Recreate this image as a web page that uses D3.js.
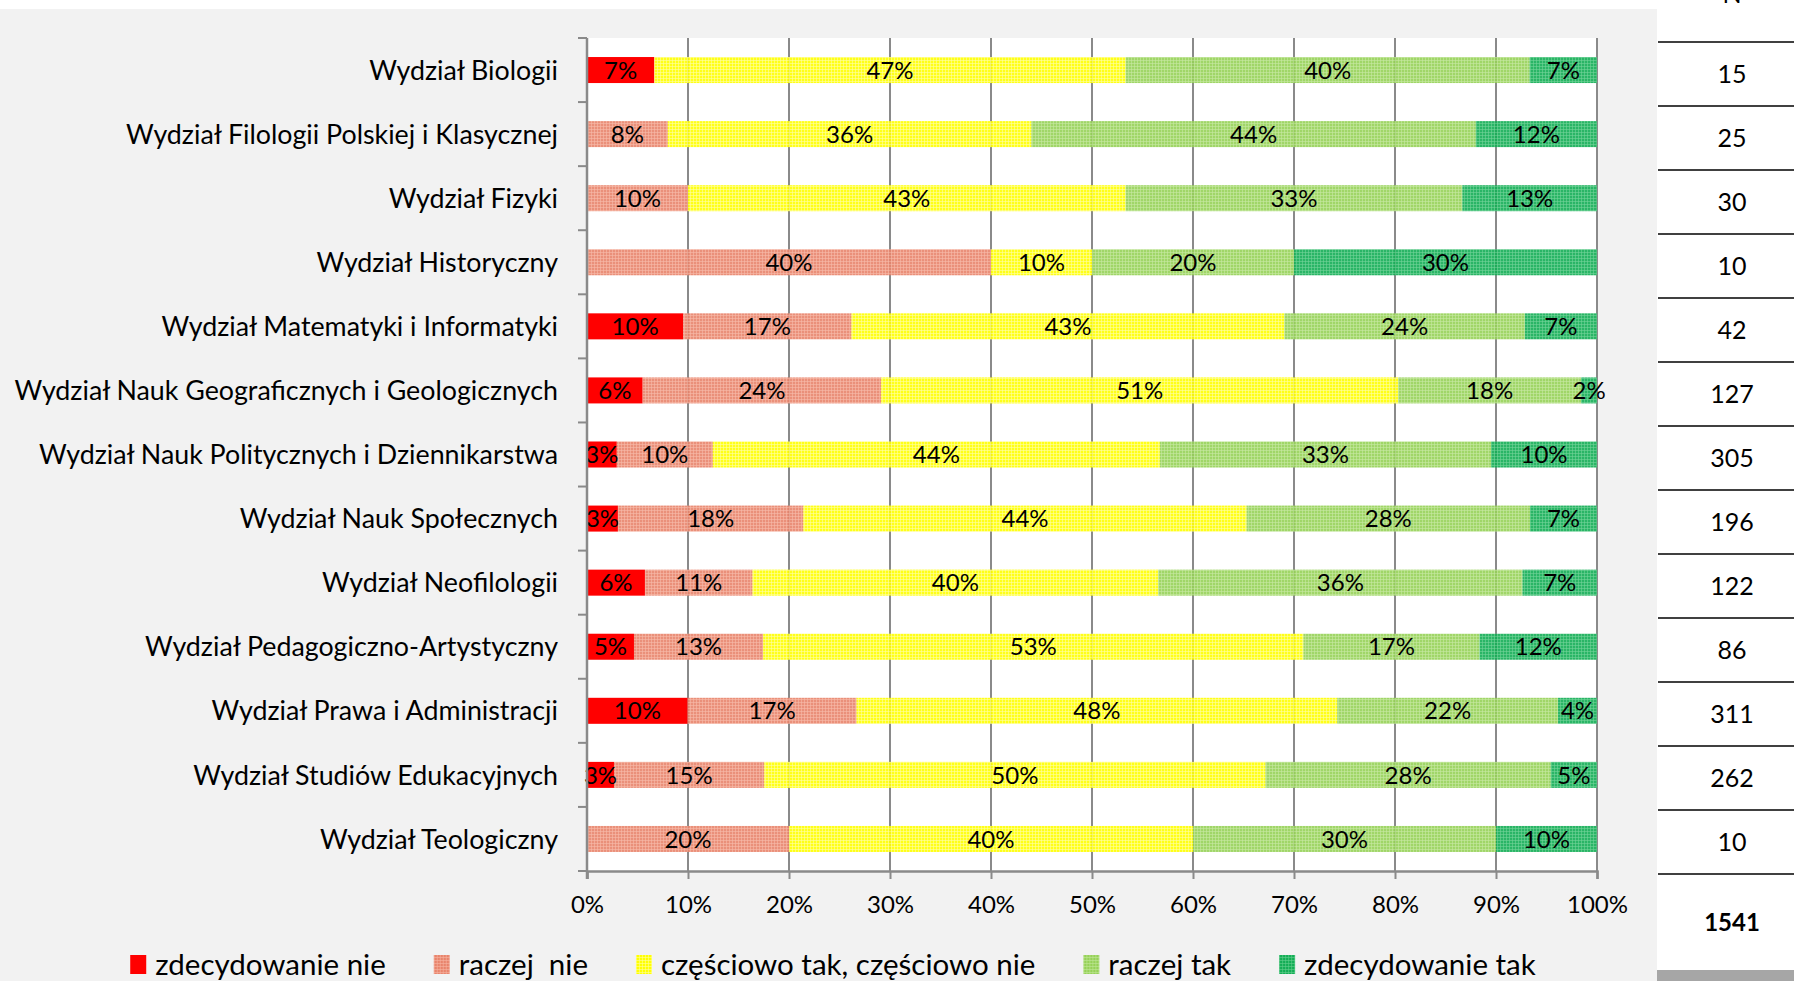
<!DOCTYPE html>
<html>
<head>
<meta charset="utf-8">
<script src="https://cdn.jsdelivr.net/npm/d3@7"></script>
<style>
	body { margin: 0; background: #ffffff; }
	text { font-family: Lato, "Open Sans", sans-serif; fill: #000000; }
</style>
</head>
<body>
<svg id="chart" width="1794" height="981"></svg>
<script>
// Wydzialy (kategorie osi Y)
var wydzialy = [
	"Wydział Biologii",
	"Wydział Filologii Polskiej i Klasycznej",
	"Wydział Fizyki",
	"Wydział Historyczny",
	"Wydział Matematyki i Informatyki",
	"Wydział Nauk Geograficznych i Geologicznych",
	"Wydział Nauk Politycznych i Dziennikarstwa",
	"Wydział Nauk Społecznych",
	"Wydział Neofilologii",
	"Wydział Pedagogiczno-Artystyczny",
	"Wydział Prawa i Administracji",
	"Wydział Studiów Edukacyjnych",
	"Wydział Teologiczny"
];

// N - liczba odpowiedzi na wydziale (tabela po prawej)
var liczbaN = [15, 25, 30, 10, 42, 127, 305, 196, 122, 86, 311, 262, 10];
var razemN = 1541;

// Odpowiedzi (serie)
var odpowiedzi = ["zdecydowanie nie", "raczej  nie", "częściowo tak, częściowo nie", "raczej tak", "zdecydowanie tak"];

// liczba osob w kazdej odpowiedzi, kolejnosc jak wydzialy
var zdecydowanieNie = [1, 0, 0, 0, 4, 7, 9, 6, 7, 4, 31, 7, 0];
var raczejNie       = [0, 2, 3, 4, 7, 30, 29, 36, 13, 11, 52, 39, 2];
var czesciowo       = [7, 9, 13, 1, 18, 65, 135, 86, 49, 46, 148, 130, 4];
var raczejTak       = [6, 11, 10, 2, 10, 23, 100, 55, 44, 15, 68, 74, 3];
var zdecydowanieTak = [1, 3, 4, 3, 3, 2, 32, 13, 9, 10, 12, 12, 1];

var osTicks = [0, 0.1, 0.2, 0.3, 0.4, 0.5, 0.6, 0.7, 0.8, 0.9, 1];

// ==========================================================================

var svg = d3.select("#chart");
var W = 1794, H = 981;
var plot = { l: 587, r: 1597, t: 38, b: 871 };
var tbl = { l: 1657, top: 42, step: 64, cx: 1732 };
var FS = 24;
var gridClr = "#8a8a8a";

var series = [zdecydowanieNie, raczejNie, czesciowo, raczejTak, zdecydowanieTak];
	// kolory: [baza, jasniejsze kropki] - null = pelne wypelnienie
var kolory = [
	["#ff0000", null],
	["#e8846c", "#f6b4a2"],
	["#ffff00", "#ffff9a"],
	["#96d158", "#c2e69a"],
	["#13ad55", "#62cf8d"]
];

	// Build rows of shares
var rows = wydzialy.map(function(w, i) {
	var o = { w: w };
	series.forEach(function(s, k) { o["k" + k] = s[i] / liczbaN[i]; });
	return o;
});
var keys = series.map(function(s, k) { return "k" + k; });
var stacked = d3.stack().keys(keys)(rows);

	// Tla
svg.append("rect").attr("width", W).attr("height", H).attr("fill", "#f2f2f2");
svg.append("rect").attr("width", W).attr("height", 9).attr("fill", "#ffffff");
svg.append("rect").attr("x", plot.l).attr("y", plot.t)
	.attr("width", plot.r - plot.l).attr("height", plot.b - plot.t).attr("fill", "#ffffff");
svg.append("rect").attr("x", tbl.l).attr("y", 0)
	.attr("width", W - tbl.l).attr("height", 970).attr("fill", "#ffffff");
svg.append("rect").attr("x", tbl.l).attr("y", 970)
	.attr("width", W - tbl.l).attr("height", H - 970).attr("fill", "#a6a6a6");

	// Wzory (pattern) dla serii
var defs = svg.append("defs");
kolory.forEach(function(c, k) {
	if (!c[1]) return;
	var p = defs.append("pattern").attr("id", "pat" + k)
		.attr("patternUnits", "userSpaceOnUse").attr("width", 3).attr("height", 3);
	p.append("rect").attr("width", 3).attr("height", 3).attr("fill", c[0]);
	p.append("rect").attr("width", 3).attr("height", 1).attr("fill", c[1]).attr("opacity", 0.6);
	p.append("rect").attr("width", 1).attr("height", 3).attr("fill", c[1]).attr("opacity", 0.6);
});
function fillOf(k) { return kolory[k][1] ? "url(#pat" + k + ")" : kolory[k][0]; }

var x = d3.scaleLinear().domain([0, 1]).range([plot.l, plot.r]);
var y = d3.scaleBand().domain(wydzialy).range([plot.t, plot.b])
	.paddingInner(0.594).paddingOuter(0.297);
var step = y.step();

	// Linie siatki
svg.append("g").selectAll("line").data(osTicks).enter().append("line")
	.attr("x1", function(d) { return x(d); }).attr("x2", function(d) { return x(d); })
	.attr("y1", plot.t).attr("y2", plot.b)
	.attr("stroke", gridClr).attr("stroke-width", 2);

	// Slupki
var layer = svg.append("g").selectAll("g").data(stacked).enter().append("g")
	.attr("fill", function(d, k) { return fillOf(k); })
	.attr("fill-opacity", function(d, k) { return k === 0 ? 1 : 0.9; });
layer.selectAll("rect").data(function(d) { return d; }).enter().append("rect")
	.attr("x", function(d) { return x(d[0]); })
	.attr("y", function(d) { return y(d.data.w); })
	.attr("width", function(d) { return x(d[1]) - x(d[0]); })
	.attr("height", y.bandwidth());

	// Etykiety danych
var lbl = svg.append("g").style("font-size", FS + "px").attr("text-anchor", "middle");
stacked.forEach(function(s) {
	s.forEach(function(d) {
		var v = d[1] - d[0];
		if (v <= 0) return;
		lbl.append("text")
			.attr("x", x((d[0] + d[1]) / 2))
			.attr("y", y(d.data.w) + y.bandwidth() / 2)
			.attr("dy", "0.36em")
			.text(Math.round(v * 100) + "%");
	});
});

	// Os X
var xAxis = d3.axisBottom(x).tickValues(osTicks).tickFormat(d3.format(".0%")).tickSize(8).tickPadding(17);
var gx = svg.append("g").attr("transform", "translate(0," + plot.b + ")").call(xAxis);
gx.select(".domain").attr("stroke", gridClr).attr("stroke-width", 2.5);
gx.selectAll(".tick line").attr("stroke", gridClr).attr("stroke-width", 2);
gx.selectAll(".tick text").style("font-size", FS + "px").style("font-family", "Lato, sans-serif").attr("fill", "#000");

	// Os Y
var gy = svg.append("g");
gy.append("line").attr("x1", plot.l).attr("x2", plot.l).attr("y1", plot.t).attr("y2", plot.b + 8)
	.attr("stroke", gridClr).attr("stroke-width", 2.5);
gy.selectAll("line.tk").data(d3.range(wydzialy.length + 1)).enter().append("line")
	.attr("class", "tk")
	.attr("x1", plot.l - 9).attr("x2", plot.l)
	.attr("y1", function(k) { return plot.t + k * step; })
	.attr("y2", function(k) { return plot.t + k * step; })
	.attr("stroke", gridClr).attr("stroke-width", 2);
gy.selectAll("text").data(wydzialy).enter().append("text")
	.attr("x", 558)
	.attr("y", function(d) { return y(d) + y.bandwidth() / 2; })
	.attr("dy", "0.36em").attr("text-anchor", "end")
	.style("font-size", "26.8px")
	.text(function(d) { return d; });

	// Tabela N
var gt = svg.append("g");
gt.append("text").attr("x", tbl.cx).attr("y", 3).attr("text-anchor", "middle")
	.style("font-size", (FS + 1) + "px").text("N");
gt.selectAll("line").data(d3.range(liczbaN.length + 1)).enter().append("line")
	.attr("x1", tbl.l + 1).attr("x2", W)
	.attr("y1", function(k) { return tbl.top + k * tbl.step; })
	.attr("y2", function(k) { return tbl.top + k * tbl.step; })
	.attr("stroke", "#000").attr("stroke-width", 1.5);
gt.selectAll("text.n").data(liczbaN).enter().append("text")
	.attr("class", "n")
	.attr("x", tbl.cx)
	.attr("y", function(d, i) { return tbl.top + (i + 0.5) * tbl.step; })
	.attr("dy", "0.36em").attr("text-anchor", "middle")
	.style("font-size", (FS + 1) + "px")
	.text(function(d) { return d; });
gt.append("text").attr("x", tbl.cx).attr("y", 922).attr("dy", "0.36em")
	.attr("text-anchor", "middle").style("font-size", FS + "px").style("font-weight", "bold")
	.text(razemN);

	// Legenda
var gl = svg.append("g");
var lx = 0, legY = 964;
odpowiedzi.forEach(function(o, k) {
	var it = gl.append("g").attr("transform", "translate(" + lx + ",0)");
	it.append("rect").attr("x", 0).attr("y", legY - 9).attr("width", 16).attr("height", 19)
		.attr("fill", fillOf(k));
	var t = it.append("text").attr("x", 25).attr("y", legY).attr("dy", "0.36em")
		.style("font-size", "29.5px").style("white-space", "pre").text(o);
	lx += 25 + t.node().getComputedTextLength() + 48;
});
var legW = lx - 48;
gl.attr("transform", "translate(" + (833 - legW / 2) + ",0)");
</script>
</body>
</html>
